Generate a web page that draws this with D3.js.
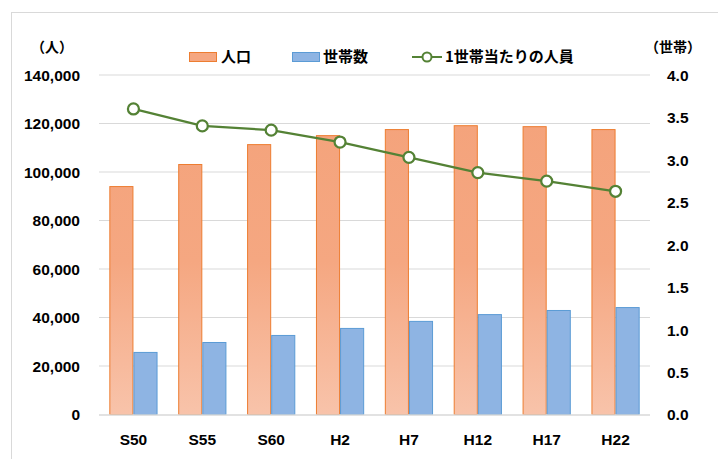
<!DOCTYPE html>
<html><head><meta charset="utf-8">
<script src="https://cdn.jsdelivr.net/npm/d3@7"></script>
<style>
html,body{margin:0;padding:0;background:#fff;}
text{font-family:"Noto Sans CJK JP","Liberation Sans",sans-serif;font-weight:bold;fill:#000;}
</style></head>
<body><svg id="c" width="718" height="459"></svg>
<script>
const categories = ["S50","S55","S60","H2","H7","H12","H17","H22"];
const population = [94200, 103300, 111500, 115200, 117700, 119300, 118900, 117700];
const households = [25800, 29900, 32800, 35700, 38600, 41400, 43100, 44300];
const perHousehold = [3.60, 3.40, 3.35, 3.21, 3.03, 2.85, 2.75, 2.63];
const leftTicks = [0, 20000, 40000, 60000, 80000, 100000, 120000, 140000];
const rightTicks = [0, 0.5, 1.0, 1.5, 2.0, 2.5, 3.0, 3.5, 4.0];
const seriesNames = ["人口", "世帯数", "1世帯当たりの人員"];

const svg = d3.select("#c");
const m = {l: 99, r: 650, t: 75, b: 414.5};

svg.append("rect").attr("x", 11.5).attr("y", 12.5).attr("width", 760).attr("height", 500)
  .attr("fill", "#fff").attr("stroke", "#d9d9d9");

const defs = svg.append("defs");
const g = defs.append("linearGradient").attr("id", "og")
  .attr("gradientUnits", "userSpaceOnUse").attr("y1", m.t).attr("y2", m.b).attr("x1", 0).attr("x2", 0);
g.append("stop").attr("offset", "0%").attr("stop-color", "#F4A27A");
g.append("stop").attr("offset", "55%").attr("stop-color", "#F5A781");
g.append("stop").attr("offset", "100%").attr("stop-color", "#F8C3AA");

const x = d3.scaleBand().domain(categories).range([m.l, m.r]).paddingInner(0.3).paddingOuter(0.15);
const x1 = d3.scaleBand().domain([0, 1]).range([0, x.bandwidth()]);
const yL = d3.scaleLinear().domain([0, 140000]).range([m.b, m.t]);
const yR = d3.scaleLinear().domain([0, 4]).range([m.b, m.t]);

// gridlines
svg.append("g").selectAll("line").data(leftTicks.slice(1)).join("line")
  .attr("x1", m.l).attr("x2", m.r).attr("y1", d => yL(d)).attr("y2", d => yL(d))
  .attr("stroke", "#d9d9d9").attr("stroke-width", 1);

// bars
const gb = svg.append("g");
gb.selectAll(".pop").data(population).join("rect")
  .attr("x", (d, i) => x(categories[i]) + x1(0) + 0.5).attr("width", x1.bandwidth() - 1)
  .attr("y", d => yL(d) + 0.5).attr("height", d => m.b - yL(d) - 0.5)
  .attr("fill", "url(#og)").attr("stroke", "#ED7D31").attr("stroke-width", 1);
gb.selectAll(".hh").data(households).join("rect")
  .attr("x", (d, i) => x(categories[i]) + x1(1) + 0.5).attr("width", x1.bandwidth() - 1)
  .attr("y", d => yL(d) + 0.5).attr("height", d => m.b - yL(d) - 0.5)
  .attr("fill", "#8EB4E3").attr("stroke", "#5B9BD5").attr("stroke-width", 1);

// baseline
svg.append("line").attr("x1", m.l).attr("x2", m.r).attr("y1", m.b + 0.5).attr("y2", m.b + 0.5)
  .attr("stroke", "#d9d9d9").attr("stroke-width", 1.5);

// line
const cx = (d, i) => x(categories[i]) + x.bandwidth() / 2;
svg.append("path").datum(perHousehold)
  .attr("d", d3.line().x(cx).y(d => yR(d)))
  .attr("fill", "none").attr("stroke", "#548235").attr("stroke-width", 2.25);
svg.append("g").selectAll("circle").data(perHousehold).join("circle")
  .attr("cx", cx).attr("cy", d => yR(d)).attr("r", 5.5)
  .attr("fill", "#fff").attr("stroke", "#548235").attr("stroke-width", 2.25);

// axes
const axL = d3.axisLeft(yL).tickValues(leftTicks).tickSize(0).tickPadding(0).tickFormat(d3.format(","));
const gl = svg.append("g").attr("transform", "translate(80,0)").call(axL);
gl.select(".domain").remove();
gl.selectAll("text").attr("font-size", 15.5).attr("dy", "0.35em");

const axR = d3.axisRight(yR).tickValues(rightTicks).tickSize(0).tickPadding(0).tickFormat(d3.format(".1f"));
const gr = svg.append("g").attr("transform", "translate(667,0)").call(axR);
gr.select(".domain").remove();
gr.selectAll("text").attr("font-size", 15.5).attr("dy", "0.35em");

const axB = d3.axisBottom(x).tickSize(0).tickPadding(0);
const gx = svg.append("g").attr("transform", "translate(0,440)").call(axB);
gx.select(".domain").remove();
gx.selectAll("text").attr("font-size", 15.5).attr("dy", "0.35em");

svg.selectAll(".tick text").style("font-family", "'Liberation Sans', sans-serif").style("font-weight", "bold");

// unit labels
svg.append("text").attr("x", 52).attr("y", 52).attr("text-anchor", "middle").attr("font-size", 14).text("（人）");
svg.append("text").attr("x", 673).attr("y", 52).attr("text-anchor", "middle").attr("font-size", 14).text("（世帯）");

// legend
const ly = 57;
svg.append("rect").attr("x", 189.5).attr("y", ly - 4.5).attr("width", 27).attr("height", 9)
  .attr("fill", "#F5A781").attr("stroke", "#ED7D31");
svg.append("text").attr("x", 221).attr("y", ly).attr("dy", "0.36em").attr("font-size", 15).text(seriesNames[0]);
svg.append("rect").attr("x", 292.5).attr("y", ly - 4.5).attr("width", 27).attr("height", 9)
  .attr("fill", "#8EB4E3").attr("stroke", "#5B9BD5");
svg.append("text").attr("x", 323).attr("y", ly).attr("dy", "0.36em").attr("font-size", 15).text(seriesNames[1]);
svg.append("line").attr("x1", 412).attr("x2", 442).attr("y1", ly).attr("y2", ly)
  .attr("stroke", "#548235").attr("stroke-width", 2);
svg.append("circle").attr("cx", 427).attr("cy", ly).attr("r", 4.5)
  .attr("fill", "#fff").attr("stroke", "#548235").attr("stroke-width", 2);
svg.append("text").attr("x", 445).attr("y", ly).attr("dy", "0.36em").attr("font-size", 15).text(seriesNames[2]);
</script></body></html>
